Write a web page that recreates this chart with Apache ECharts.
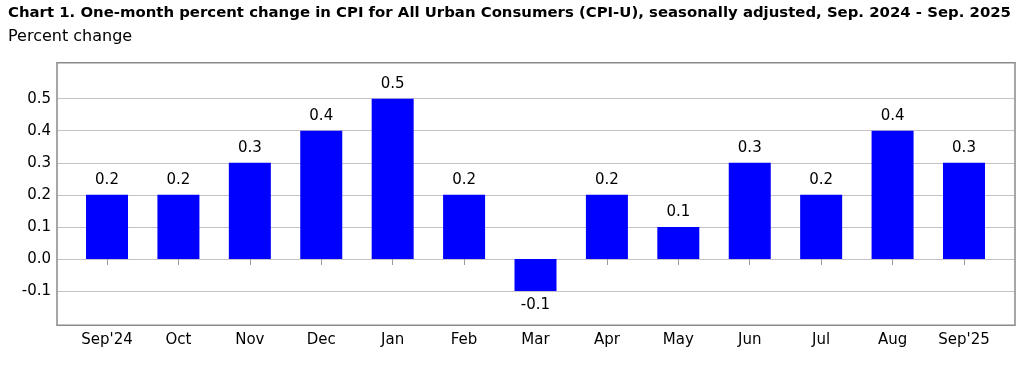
<!DOCTYPE html>
<html><head><meta charset="utf-8">
<script src="https://cdn.jsdelivr.net/npm/echarts@6/dist/echarts.min.js"></script>
<style>html,body{margin:0;padding:0;background:#fff}#c{width:1030px;height:372px}</style>
</head><body><div id="c"></div>
<script>
const categories = ["Sep'24","Oct","Nov","Dec","Jan","Feb","Mar","Apr","May","Jun","Jul","Aug","Sep'25"];
const values = [0.2,0.2,0.3,0.4,0.5,0.2,-0.1,0.2,0.1,0.3,0.2,0.4,0.3];
const yTicks = [-0.2,-0.1,0.0,0.1,0.2,0.3,0.4,0.5,0.6];
const titleText = "Chart 1. One-month percent change in CPI for All Urban Consumers (CPI-U), seasonally adjusted, Sep. 2024 - Sep. 2025";
const subText = "Percent change";

const font = "DejaVu Sans";
const yMin = yTicks[0], yMax = yTicks[yTicks.length-1];
const plotTop = 66.6, plotH = 256.5;
const chart = echarts.init(document.getElementById('c'), null, {renderer:'canvas'});
chart.setOption({
  animation:false,
  title:[
    {text:titleText, left:8, top:6, padding:0,
      textStyle:{fontFamily:font,fontSize:14.9,fontWeight:'bold',color:'#000'}},
    {text:subText, left:8, top:29, padding:0,
      textStyle:{fontFamily:font,fontSize:16,fontWeight:'normal',color:'#000'}}
  ],
  graphic:[{type:'rect', z:100, silent:true,
    shape:{x:57, y:62.7, width:958, height:262.6}, style:{fill:null, stroke:'#8a8a8a', lineWidth:1.5}}],
  grid:[
    {left:57, right:15, top:plotTop, height:plotH},
    {left:71.3, right:30.3, top:plotTop, height:plotH}
  ],
  xAxis:[
    {type:'value', gridIndex:0, show:false, min:0, max:1},
    {type:'category', gridIndex:1, data:categories,
      axisLine:{show:false}, axisTick:{show:true, alignWithLabel:true, length:6, lineStyle:{color:'#999'}},
      axisLabel:{fontFamily:font,fontSize:15,color:'#000',margin:10}}
  ],
  yAxis:[
    {type:'value', gridIndex:0, min:yMin, max:yMax, interval:0.1,
      axisLine:{show:false}, axisTick:{show:false},
      splitLine:{showMinLine:false, showMaxLine:false, lineStyle:{color:'#c8c0c8',width:1}},
      axisLabel:{fontFamily:font,fontSize:15,color:'#000',margin:6,
        formatter:v=>{const r=Math.round(v*10)/10; if(r<=yMin+1e-9||r>=yMax-1e-9) return ''; return r.toFixed(1);}}},
    {type:'value', gridIndex:1, min:yMin, max:yMax, interval:0.1, show:false, splitLine:{show:false}}
  ],
  series:[{type:'bar', xAxisIndex:1, yAxisIndex:1, data:values, barWidth:42, itemStyle:{color:'#0000ff'},
    label:{show:true, position:'outside', fontFamily:font, fontSize:15, color:'#000', distance:7,
      formatter:p=>p.value.toFixed(1)}}]
});
</script></body></html>
